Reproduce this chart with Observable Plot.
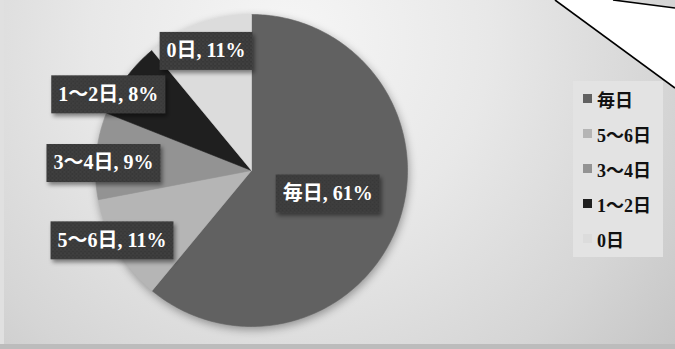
<!DOCTYPE html>
<html><head><meta charset="utf-8">
<script src="https://cdn.jsdelivr.net/npm/d3@7"></script>
<script src="https://cdn.jsdelivr.net/npm/@observablehq/plot@0.6"></script>
<style>
html,body{margin:0;padding:0;background:#d8d8d8;}
#wrap{position:relative;width:675px;height:349px;overflow:hidden;}
#wrap > svg{display:block;}
.lg-swatches{position:absolute;left:573px;top:81px;width:90px;height:176px;margin:0 !important;background:#e3e3e3;padding-left:10px;box-sizing:border-box;font:bold 18px "Liberation Serif","Noto Sans CJK JP",serif !important;color:#111;}
.lg-swatch{height:35px;padding-bottom:0 !important;}
.lg-swatch > svg{margin-right:5px !important;}
.strip{position:absolute;pointer-events:none;}
</style></head><body><div id="wrap"></div>
<script>
// ---- data ----
const categories = ["毎日", "5～6日", "3～4日", "1～2日", "0日"];
const percents = [61, 11, 9, 8, 11];
const colors = ["#616161", "#b5b5b5", "#939393", "#1f1f1f", "#dcdcdc"];
// ---- label placement (layout, relative to slice mid-angle) ----
const labelRadius = [0.51, 1.0, 0.95, 1.04, 0.82];
const labelAngleShift = [-3, 4, -2.5, -8, -1];

const rows = categories.map((cat, i) => ({cat, value: percents[i]}));
const slices = d3.pie().sort(null).value(d => d.value)(rows);

const piePoints = slices.flatMap(s => {
  const cat = s.data.cat;
  const n = Math.max(2, Math.ceil((s.endAngle - s.startAngle) / (Math.PI / 180)));
  const pts = [{cat, x: 0, y: 0}];
  for (let k = 0; k <= n; k++) {
    const a = s.startAngle + (s.endAngle - s.startAngle) * k / n;
    pts.push({cat, x: Math.sin(a), y: Math.cos(a)});
  }
  pts.push({cat, x: 0, y: 0});
  return pts;
});

const labelRows = slices.map((s, i) => {
  const a = (s.startAngle + s.endAngle) / 2 + labelAngleShift[i] * Math.PI / 180;
  const r = labelRadius[i];
  return {text: `${s.data.cat}, ${s.data.value}%`, x: r * Math.sin(a), y: r * Math.cos(a)};
});

const font = '"Liberation Serif","Noto Sans CJK JP",serif';

const chart = Plot.plot({
  width: 675, height: 349, margin: 0,
  x: {domain: [-1, 1], range: [95, 407], axis: null},
  y: {domain: [-1, 1], range: [326, 14], axis: null},
  color: {domain: categories, range: colors},
  style: {
    background: "radial-gradient(circle at 290px 40px, #f6f6f6 0px, #e8e8e8 200px, #d5d5d5 380px, #c2c2c2 520px)",
    overflow: "visible"
  },
  marks: [
    Plot.line(piePoints, {x: "x", y: "y", z: "cat", fill: "cat", stroke: "cat", strokeWidth: 0.6, curve: "linear"}),
    Plot.text(labelRows, {x: "x", y: "y", text: "text", fill: "white", fontSize: 20, fontWeight: "bold", fontFamily: font})
  ]
});

const wrap = document.getElementById("wrap");
wrap.appendChild(chart);

// defs: dotted texture + shadow
const svg = d3.select(chart);
const defs = svg.insert("defs", ":first-child");
const pat = defs.append("pattern").attr("id", "dots").attr("width", 4).attr("height", 4).attr("patternUnits", "userSpaceOnUse");
pat.append("rect").attr("width", 4).attr("height", 4).attr("fill", "#393939");
pat.append("circle").attr("cx", 1).attr("cy", 1).attr("r", 0.8).attr("fill", "#4b4b4b");
pat.append("circle").attr("cx", 3).attr("cy", 3).attr("r", 0.8).attr("fill", "#444");
const f = defs.append("filter").attr("id", "sh").attr("x", "-20%").attr("y", "-30%").attr("width", "150%").attr("height", "180%");
f.append("feDropShadow").attr("dx", 2).attr("dy", 3).attr("stdDeviation", 2).attr("flood-color", "#000").attr("flood-opacity", 0.45);

// pie shadow
chart.querySelectorAll('g[aria-label="line"]').forEach(g => g.style.filter = "drop-shadow(1px 3px 4px rgba(0,0,0,0.35))");

// label boxes (drawn behind each label, centred on its anchor)
chart.querySelectorAll('g[aria-label="text"] text').forEach(t => {
  const bb = t.getBBox();
  const yAttr = t.getAttribute("y");
  const ty = (yAttr && !/em$/.test(yAttr)) ? parseFloat(yAttr) : 0;
  const r = document.createElementNS("http://www.w3.org/2000/svg", "rect");
  r.setAttribute("x", bb.x - 7);
  r.setAttribute("y", ty - 19);
  r.setAttribute("width", bb.width + 14);
  r.setAttribute("height", 38);
  r.setAttribute("fill", "url(#dots)");
  r.setAttribute("filter", "url(#sh)");
  const tr = t.getAttribute("transform");
  if (tr) r.setAttribute("transform", tr);
  t.parentNode.insertBefore(r, t);
});

// callout decoration (top right)
const deco = d3.create("svg").attr("width", 675).attr("height", 349)
  .style("position", "absolute").style("left", 0).style("top", 0).style("pointer-events", "none");
deco.append("polygon").attr("points", "555,0 613,0 675,8 675,88").attr("fill", "#fff");
deco.append("line").attr("x1", 555).attr("y1", 0).attr("x2", 675).attr("y2", 88).attr("stroke", "#000").attr("stroke-width", 1.6);
deco.append("line").attr("x1", 613).attr("y1", 0).attr("x2", 675).attr("y2", 8).attr("stroke", "#000").attr("stroke-width", 1.6);
wrap.appendChild(deco.node());

// legend
const legend = Plot.legend({color: {domain: categories, range: colors}, columns: 1, swatchSize: 9, className: "lg"});
wrap.appendChild(legend);

// frame strips
const s1 = document.createElement("div"); s1.className = "strip";
Object.assign(s1.style, {left: "0px", top: "0px", width: "4px", height: "344px", background: "#e0e0e0"});
const s2 = document.createElement("div"); s2.className = "strip";
Object.assign(s2.style, {left: "0px", top: "344px", width: "675px", height: "5px", background: "#bcbcbc"});
wrap.appendChild(s1); wrap.appendChild(s2);
</script></body></html>
